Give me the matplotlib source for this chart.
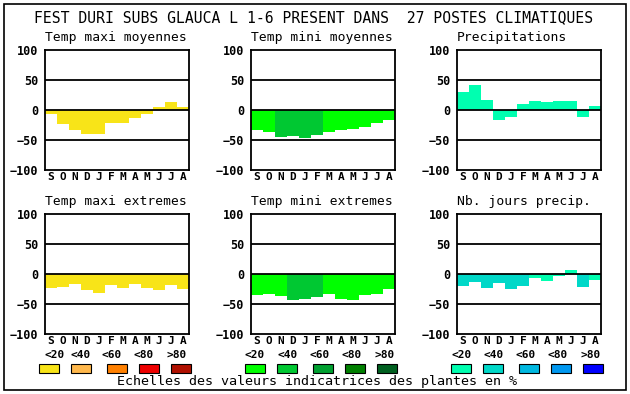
import matplotlib
matplotlib.use("Agg")
import matplotlib.pyplot as plt
from matplotlib.patches import Rectangle

MONTHS = ["S", "O", "N", "D", "J", "F", "M", "A", "M", "J", "J", "A"]
SCALE_LABELS = ["<20", "<40", "<60", "<80", ">80"]

YELLOWS = ["#f8e418", "#ffb84c", "#ff8000", "#ee0000", "#b01000"]
GREENS = ["#00ff00", "#00c832", "#00a030", "#008000", "#006020"]
BLUES = ["#00ffb0", "#00d8c8", "#00b8e0", "#0098f0", "#0000ff"]

TITLE = "FEST DURI SUBS GLAUCA L 1-6 PRESENT DANS  27 POSTES CLIMATIQUES"

tmax_moy = [-7, -24, -34, -40, -40, -22, -21, -14, -7, 5, 14, 5]
tmax_moy_cls = [0] * 12
tmin_moy = [-33, -36, -45, -44, -46, -42, -36, -34, -32, -28, -22, -16]
tmin_moy_cls = [0, 0, 1, 1, 1, 1, 0, 0, 0, 0, 0, 0]
precip = [30, 42, 17, -17, -11, 10, 15, 14, 15, 15, -11, 7]
precip_cls = [0] * 12

tmax_ext = [-24, -21, -16, -27, -32, -18, -24, -16, -24, -27, -18, -25]
tmax_ext_cls = [0] * 12
tmin_ext = [-35, -33, -37, -44, -42, -38, -33, -41, -44, -35, -34, -25]
tmin_ext_cls = [0, 0, 0, 1, 1, 1, 0, 0, 0, 0, 0, 0]
nb_jours = [-20, -14, -24, -15, -25, -20, -7, -12, -4, 7, -22, -10]
nb_jours_cls = [1, 1, 1, 1, 1, 1, 0, 0, 0, 0, 1, 0]

W, H = 630, 394
MONO = "DejaVu Sans Mono"

fig = plt.figure(figsize=(W / 100, H / 100), dpi=100)
fig.patch.set_facecolor("white")


def px_axes(x0, y0, x1, y1):
    return fig.add_axes([x0 / W, 1 - y1 / H, (x1 - x0) / W, (y1 - y0) / H])


def panel(x0, y0, title, values, classes, palette):
    ax = px_axes(x0, y0, x0 + 144, y0 + 120)
    colors = [palette[c] for c in classes]
    ax.bar(range(12), values, width=1.0, color=colors, linewidth=0, zorder=1)
    for v in (-50, 0, 50):
        ax.axhline(v, color="black", lw=1.3, zorder=3)
    ax.set_xlim(-0.5, 11.5)
    ax.set_ylim(-100, 100)
    ax.set_yticks([-100, -50, 0, 50, 100])
    ax.set_xticks(range(12))
    ax.set_xticklabels(MONTHS)
    ax.tick_params(length=0, pad=5)
    ax.tick_params(axis="x", pad=1.5)
    for lab in ax.get_yticklabels():
        lab.set_fontfamily(MONO)
        lab.set_fontweight("bold")
        lab.set_fontsize(8.5)
    for lab in ax.get_xticklabels():
        lab.set_fontfamily(MONO)
        lab.set_fontweight("bold")
        lab.set_fontsize(8)
    for s in ax.spines.values():
        s.set_linewidth(1.3)
    fig.text(x0 / W, 1 - (y0 - 12) / H, title,
             family=MONO, fontsize=9.4, ha="left", va="center")
    return ax


panel(45, 50, "Temp maxi moyennes", tmax_moy, tmax_moy_cls, YELLOWS)
panel(251, 50, "Temp mini moyennes", tmin_moy, tmin_moy_cls, GREENS)
panel(457, 50, "Precipitations", precip, precip_cls, BLUES)
panel(45, 214, "Temp maxi extremes", tmax_ext, tmax_ext_cls, YELLOWS)
panel(251, 214, "Temp mini extremes", tmin_ext, tmin_ext_cls, GREENS)
panel(457, 214, "Nb. jours precip.", nb_jours, nb_jours_cls, BLUES)

fig.text(314 / W, 1 - 18 / H, TITLE, family=MONO, fontsize=10.6,
         ha="center", va="center")

# colour scale legend
box_x = [[39, 71, 107, 139, 171], [245, 277, 313, 345, 377], [451, 483, 519, 551, 583]]
label_x = [[55, 81, 112, 144, 177], [255, 288, 320, 352, 385], [462, 494, 526, 558, 591]]
for xs, lxs, pal in zip(box_x, label_x, [YELLOWS, GREENS, BLUES]):
    for bx, lx, col, lab in zip(xs, lxs, pal, SCALE_LABELS):
        fig.patches.append(Rectangle((bx / W, 1 - 373 / H), 20 / W, 9 / H,
                                     transform=fig.transFigure, facecolor=col,
                                     edgecolor="black", lw=0.8))
        fig.text(lx / W, 1 - 355 / H, lab, family=MONO, fontweight="bold",
                 fontsize=8, ha="center", va="center")

fig.text(317 / W, 1 - 382 / H, "Echelles des valeurs indicatrices des plantes en %",
         family=MONO, fontsize=9.6, ha="center", va="center")

# outer frame
fig.patches.append(Rectangle((4 / W, 1 - 390 / H), 622 / W, 386 / H,
                             transform=fig.transFigure, fill=False,
                             edgecolor="black", lw=1.2))

fig.savefig("out.png", dpi=100)
